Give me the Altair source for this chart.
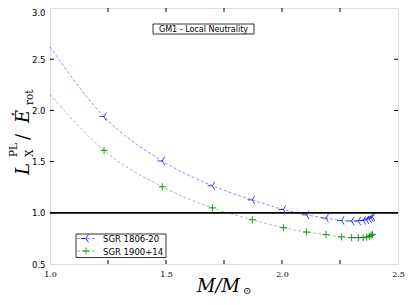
import altair as alt
import pandas as pd

# ---- data ----
mass = [1.0, 1.233, 1.484, 1.70, 1.872, 2.006, 2.106, 2.19, 2.257, 2.300, 2.329, 2.350, 2.365, 2.376, 2.384, 2.390]
sgr1806 = [2.62, 1.94, 1.506, 1.264, 1.126, 1.032, 0.98, 0.948, 0.925, 0.92, 0.92, 0.925, 0.93, 0.94, 0.95, 0.96]
sgr1900 = [2.157, 1.609, 1.254, 1.048, 0.932, 0.855, 0.812, 0.787, 0.765, 0.757, 0.757, 0.758, 0.762, 0.77, 0.78, 0.79]
series_names = ["SGR 1806-20", "SGR 1900+14"]
x_ticks = [1.25, 1.5, 1.75, 2.0, 2.25]
x_labels = [1.0, 1.5, 2.0, 2.5]
y_ticks = [1.0, 1.5, 2.0, 2.5]
y_labels = [0.5, 1.0, 1.5, 2.0, 2.5, 3.0]
title_text = "GM1 - Local Neutrality"

W, H = 348, 256
BLUE, GREEN = "#0000ff", "#008000"
TRI_LEFT = "M0,0L-1,0M0,0L0.5,-0.866M0,0L0.5,0.866"
PLUS = "M-1,0L1,0M0,-1L0,1"

df = pd.DataFrame({"M": mass, "a": sgr1806, "b": sgr1900})
dfm = df.iloc[1:]

xs = alt.Scale(domain=[1.0, 2.5], nice=False, zero=False)
ys = alt.Scale(domain=[0.5, 3.0], nice=False, zero=False)

xaxis = alt.Axis(values=x_labels, format=".1f", ticks=False, domain=False, grid=False,
                 labelFont="DejaVu Serif", labelFontSize=8, labelColor="#000",
                 labelPadding=6, labelFlush=False, title="")
yaxis = alt.Axis(values=y_labels, format=".1f", ticks=False, domain=False, grid=False,
                 labelFont="DejaVu Sans", labelFontSize=8.5, labelColor="#000",
                 labelPadding=5, labelFlush=False,
                 labelBaseline={"condition": {"test": "datum.value >= 3", "value": "top"}, "value": "middle"},
                 title="")

base = alt.Chart(df)

hline = alt.Chart(pd.DataFrame({"y": [1.0]})).mark_rule(color="#000", strokeWidth=1.8).encode(
    y=alt.Y("y:Q", scale=ys, axis=yaxis))

line_a = base.mark_line(color=BLUE, opacity=0.45, strokeWidth=1, strokeDash=[3, 2],
                        interpolate="monotone").encode(
    x=alt.X("M:Q", scale=xs, axis=xaxis), y=alt.Y("a:Q", scale=ys))
line_b = base.mark_line(color=GREEN, opacity=0.4, strokeWidth=1, strokeDash=[3, 2],
                        interpolate="monotone").encode(
    x=alt.X("M:Q", scale=xs), y=alt.Y("b:Q", scale=ys))

pts_a = alt.Chart(dfm).mark_point(shape=TRI_LEFT, filled=False, size=90, strokeWidth=1,
                                  color=BLUE, opacity=0.75).encode(
    x=alt.X("M:Q", scale=xs), y=alt.Y("a:Q", scale=ys))
pts_b = alt.Chart(dfm).mark_point(shape=PLUS, filled=False, size=50, strokeWidth=1,
                                  color=GREEN, opacity=0.85).encode(
    x=alt.X("M:Q", scale=xs), y=alt.Y("b:Q", scale=ys))

# inward ticks on all four sides
xt = pd.DataFrame({"v": x_ticks})
yt = pd.DataFrame({"v": y_ticks})
tick_style = dict(color="#000", strokeWidth=1)
xt_bot = alt.Chart(xt).mark_rule(**tick_style).encode(
    x=alt.X("v:Q", scale=xs), y=alt.value(H), y2=alt.value(H - 4))
xt_top = alt.Chart(xt).mark_rule(**tick_style).encode(
    x=alt.X("v:Q", scale=xs), y=alt.value(0), y2=alt.value(4))
yt_left = alt.Chart(yt).mark_rule(**tick_style).encode(
    y=alt.Y("v:Q", scale=ys), x=alt.value(0), x2=alt.value(4))
yt_right = alt.Chart(yt).mark_rule(**tick_style).encode(
    y=alt.Y("v:Q", scale=ys), x=alt.value(W), x2=alt.value(W - 4))

# title box
tb = pd.DataFrame({"t": [title_text]})
title_box = alt.Chart(tb).mark_rect(fill="white", stroke="#000", strokeWidth=0.8).encode(
    x=alt.value(103), x2=alt.value(204), y=alt.value(16), y2=alt.value(26))
title_txt = alt.Chart(tb).mark_text(font="DejaVu Sans", fontSize=8, color="#000",
                                    align="center", baseline="middle").encode(
    x=alt.value(153.5), y=alt.value(21.5), text="t:N")

# legend
lg = pd.DataFrame({"t": series_names})
leg_box = alt.Chart(lg.iloc[:1]).mark_rect(fill="white", stroke="#000", strokeWidth=0.8).encode(
    x=alt.value(26), x2=alt.value(116), y=alt.value(226), y2=alt.value(249.5))
leg_items = []
for i, (name, col, shp, sz) in enumerate([(series_names[0], BLUE, TRI_LEFT, 90),
                                          (series_names[1], GREEN, PLUS, 50)]):
    yy = 230.5 + i * 12.5
    d = pd.DataFrame({"t": [name]})
    leg_items.append(alt.Chart(d).mark_rule(color=col, opacity=0.45, strokeWidth=1,
                                            strokeDash=[3, 2]).encode(
        x=alt.value(27), x2=alt.value(45), y=alt.value(yy)))
    leg_items.append(alt.Chart(d).mark_point(shape=shp, filled=False, size=sz, strokeWidth=1,
                                             color=col, opacity=0.8).encode(
        x=alt.value(36), y=alt.value(yy)))
    leg_items.append(alt.Chart(d).mark_text(font="DejaVu Sans", fontSize=8.5, color="#000",
                                            align="left", baseline="middle").encode(
        x=alt.value(53), y=alt.value(yy + 0.5), text="t:N"))

# axis titles built from pieces (math-style sub/superscripts)
# (text, font size, style, x, y, angle)
title_parts = [
    ("L", 18, "italic", -21, 167, 270),
    ("PL", 10.5, "normal", -33, 149, 270),
    ("X", 10.5, "normal", -17, 149, 270),
    ("/", 18, "normal", -21, 132, 270),
    ("E\u0307", 18, "italic", -21, 115, 270),
    ("rot", 10.5, "normal", -17, 97, 270),
    ("M/M", 18, "italic", 147, 284, 0),
    ("\u2299", 10, "normal", 193, 285.5, 0),
]
tparts = []
for txt, fs, st, px, py, ang in title_parts:
    d = pd.DataFrame({"t": [txt]})
    tparts.append(alt.Chart(d).mark_text(font="DejaVu Serif", fontSize=fs, fontStyle=st,
                                         color="#000", align="left", baseline="alphabetic",
                                         angle=ang).encode(
        x=alt.value(px), y=alt.value(py), text="t:N"))

chart = alt.layer(
    hline, line_a, line_b, pts_a, pts_b,
    xt_bot, xt_top, yt_left, yt_right,
    title_box, title_txt, leg_box, *leg_items, *tparts
).properties(
    width=W, height=H,
    autosize=alt.AutoSizeParams(type="none"),
    padding={"left": 42, "top": 0, "right": 9, "bottom": 33},
).configure_view(stroke="#000", strokeWidth=1).configure(background="white")

chart.save("out.html", embed_options={"renderer": "svg", "actions": False})
